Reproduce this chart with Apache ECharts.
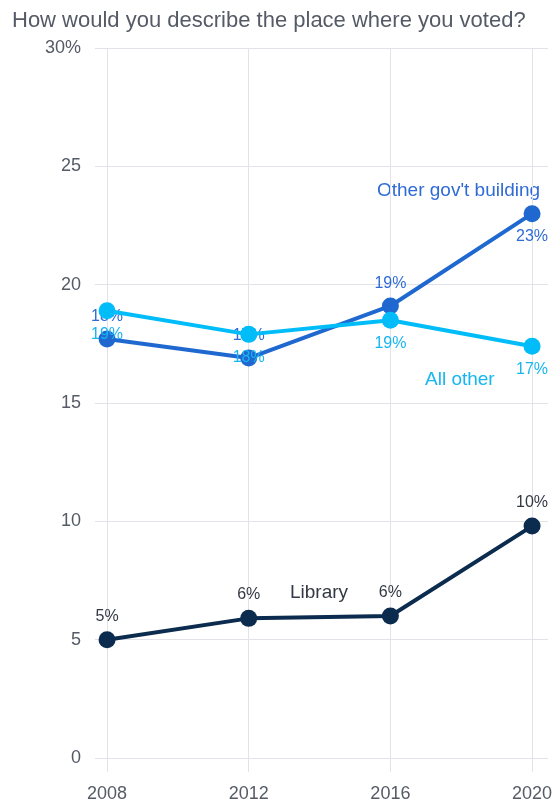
<!DOCTYPE html>
<html lang="en">
<head>
    <meta charset="UTF-8">
    <title>Place where you voted</title>
    <script src="https://cdn.jsdelivr.net/npm/echarts@6/dist/echarts.min.js"></script>
    <style>
        body { margin: 0; background: #fff; }
    </style>
</head>
<body>
<div id="main" style="width: 556px;height:803px;"></div>
<script type="text/javascript">
    var years = [2008, 2012, 2016, 2020];
    var govBuilding = [17.7, 16.9, 19.1, 23.0];
    var allOther = [18.9, 17.9, 18.5, 17.4];
    var library = [5.0, 5.9, 6.0, 9.8];
    var yTicks = [0, 5, 10, 15, 20, 25, 30];

    var font = '"Liberation Sans", Arial, sans-serif';

    function pairs(vals) {
        return years.map(function (y, i) { return [y, vals[i]]; });
    }

    function pct(p) {
        return Math.round(p.value[1]) + '%';
    }

    var myChart = echarts.init(document.getElementById('main'));

    // gov't labels sit above the point, except the last one
    var govData = pairs(govBuilding).map(function (d, i) {
        if (i === 3) return { value: d, label: { position: 'bottom' } };
        return d;
    });

    var option = {
        animation: false,
        title: {
            text: 'How would you describe the place where you voted?',
            left: 7,
            top: 5,
            textStyle: { fontFamily: font, fontSize: 22, fontWeight: 'normal', color: '#555b66' }
        },
        grid: { left: 95, right: 8, top: 48, bottom: 43 },
        xAxis: {
            type: 'value',
            min: 2007.66,
            max: 2020.45,
            axisLine: { show: false },
            axisTick: { show: true, customValues: years, length: 14, lineStyle: { color: '#e2e3e8' } },
            axisLabel: {
                customValues: years,
                margin: 27,
                fontFamily: font, fontSize: 18, color: '#555b66',
                formatter: function (v) { return String(v); }
            },
            splitLine: { show: true, lineStyle: { color: '#e2e3e8' } }
        },
        yAxis: {
            type: 'value',
            min: 0,
            max: 30,
            interval: 5,
            axisLine: { show: false },
            axisTick: { show: false },
            axisLabel: {
                margin: 14,
                fontFamily: font, fontSize: 18, color: '#555b66',
                formatter: function (v) { return v === yTicks[yTicks.length - 1] ? v + '%' : String(v); }
            },
            splitLine: { lineStyle: { color: '#e2e3e8' } }
        },
        series: [
            {
                name: "Other gov't building",
                type: 'line',
                data: govData,
                symbol: 'circle',
                symbolSize: 17,
                lineStyle: { width: 4, color: '#1f68d0' },
                itemStyle: { color: '#1f68d0' },
                label: {
                    show: true, position: 'top', distance: 6,
                    fontFamily: font, fontSize: 16, color: '#2f6bd6',
                    formatter: pct
                },
                z: 3
            },
            {
                name: 'All other',
                type: 'line',
                data: pairs(allOther),
                symbol: 'circle',
                symbolSize: 17,
                lineStyle: { width: 4, color: '#00bdfa' },
                itemStyle: { color: '#00bdfa' },
                label: {
                    show: true, position: 'bottom', distance: 7,
                    fontFamily: font, fontSize: 16, color: '#16b6f0',
                    formatter: pct
                },
                z: 4
            },
            {
                name: 'Library',
                type: 'line',
                data: pairs(library),
                symbol: 'circle',
                symbolSize: 17,
                lineStyle: { width: 4, color: '#0b2b4f' },
                itemStyle: { color: '#0b2b4f' },
                label: {
                    show: true, position: 'top', distance: 7,
                    fontFamily: font, fontSize: 16, color: '#333844',
                    formatter: pct
                }
            }
        ],
        graphic: [
            {
                type: 'text', left: 377, top: 181,
                style: { text: "Other gov't building", fill: '#2f6bd6', font: '19px ' + font }
            },
            {
                type: 'text', left: 425, top: 370,
                style: { text: 'All other', fill: '#16b6f0', font: '19px ' + font }
            },
            {
                type: 'text', left: 290, top: 583,
                style: { text: 'Library', fill: '#333844', font: '19px ' + font }
            }
        ]
    };

    myChart.setOption(option);
</script>
</body>
</html>
